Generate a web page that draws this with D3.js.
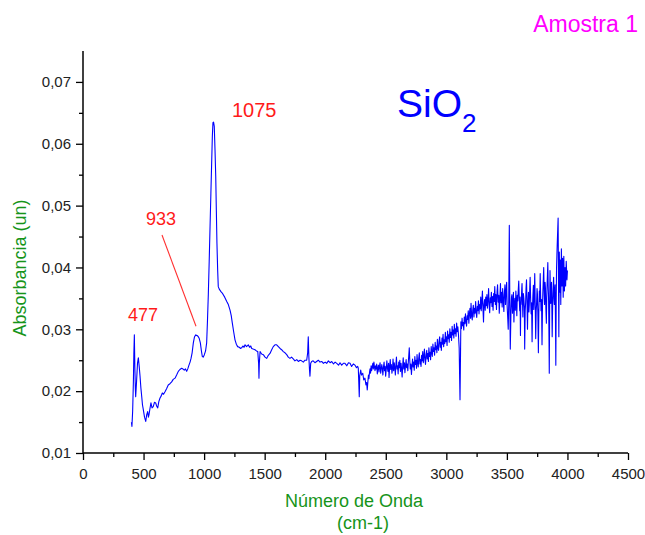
<!DOCTYPE html>
<html>
<head>
<meta charset="utf-8">
<script src="https://cdn.jsdelivr.net/npm/d3@7"></script>
<style>
  html, body { margin: 0; padding: 0; background: #fff; }
  svg { display: block; font-family: "Liberation Sans", Arial, sans-serif; }
</style>
</head>
<body>
<svg id="chart" width="645" height="535"></svg>
<script>
// ---- data ----
const xTicks = [0, 500, 1000, 1500, 2000, 2500, 3000, 3500, 4000, 4500];
const xMinorTicks = [250, 750, 1250, 1750, 2250, 2750, 3250, 3750, 4250];
const yTicks = [0.01, 0.02, 0.03, 0.04, 0.05, 0.06, 0.07];
const yMinorTicks = [0.015, 0.025, 0.035, 0.045, 0.055, 0.065];

// spectrum segments: [wavenumber (cm-1), absorbance]
const segLow = [[400,0.0150],[404,0.0143],[410,0.0168],[416,0.0215],[420,0.0262],[424,0.0291],[428,0.0240],[432,0.0205],[435,0.0191],[442,0.0215],[450,0.0245],[457,0.0254],[464,0.0240],[471,0.0224],[478,0.0205],[485,0.0191],[491,0.0178],[498,0.0170],[508,0.0158],[518,0.0151],[526,0.0162],[534,0.0167],[540,0.0158],[545,0.0162],[553,0.0172],[561,0.0181],[570,0.0173],[580,0.0175],[590,0.0182],[600,0.0181],[608,0.0176],[617,0.0173],[626,0.0183],[636,0.0189],[645,0.0192],[655,0.0197],[665,0.0195],[677,0.0199],[690,0.0204],[704,0.0210],[718,0.0212],[732,0.0215],[745,0.0219],[760,0.0221],[773,0.0226],[787,0.0232],[800,0.0235],[815,0.0237],[825,0.0236],[836,0.0234],[846,0.0236],[856,0.0232],[865,0.0236],[875,0.0242],[884,0.0247],[892,0.0253],[901,0.0262],[911,0.0278],[921,0.0288],[931,0.0291],[942,0.0290],[952,0.0288],[960,0.0285],[969,0.0278],[977,0.0266],[985,0.0256],[993,0.0255],[1002,0.0259],[1012,0.0265],[1021,0.0278]];
const segPeak = [[1028,0.0315],[1035,0.0358],[1042,0.0410],[1049,0.0466],[1056,0.0520],[1063,0.0574],[1068,0.0612],[1073,0.0634],[1078,0.0635],[1084,0.0628],[1090,0.0590],[1096,0.0547],[1101,0.0492],[1106,0.0439],[1112,0.0395],[1117,0.0369],[1125,0.0365],[1132,0.0363],[1139,0.0361],[1148,0.0359],[1158,0.0356],[1170,0.0352],[1187,0.0345],[1200,0.0340],[1214,0.0331],[1224,0.0322],[1233,0.0310],[1244,0.0296],[1255,0.0283],[1266,0.0276],[1277,0.0272]];
const segMid = [[1290,0.0271],[1300,0.0269],[1310,0.0270],[1320,0.0273],[1330,0.0271],[1338,0.0275],[1350,0.0272],[1365,0.0275],[1375,0.0271],[1385,0.0273],[1393,0.0269],[1405,0.0268],[1420,0.0267],[1432,0.0265],[1443,0.0264],[1450,0.0245],[1453,0.0221],[1456,0.0245],[1462,0.0264],[1475,0.0260],[1489,0.0259],[1503,0.0255],[1517,0.0253],[1530,0.0258],[1544,0.0261],[1558,0.0267],[1571,0.0272],[1585,0.0275],[1599,0.0275],[1613,0.0272],[1627,0.0269],[1640,0.0267],[1654,0.0264],[1668,0.0262],[1682,0.0259],[1695,0.0255],[1709,0.0253],[1722,0.0255],[1736,0.0252],[1750,0.0249],[1765,0.0251],[1778,0.0248],[1792,0.0250],[1805,0.0249],[1819,0.0247],[1833,0.0250],[1847,0.0250],[1855,0.0262],[1860,0.0288],[1865,0.0255],[1870,0.0235],[1874,0.0224],[1880,0.0245],[1888,0.0248],[1900,0.0249],[1915,0.0246],[1929,0.0248],[1943,0.0250],[1957,0.0247],[1971,0.0248],[1985,0.0245],[2000,0.0247],[2012,0.0245],[2026,0.0249],[2040,0.0246],[2054,0.0248],[2068,0.0244],[2082,0.0247],[2095,0.0245],[2110,0.0242],[2122,0.0246],[2136,0.0242],[2150,0.0245],[2163,0.0245],[2178,0.0241],[2192,0.0246],[2205,0.0245],[2218,0.0240],[2232,0.0244],[2246,0.0242],[2258,0.0238],[2268,0.0240],[2273,0.0237],[2277,0.0215],[2281,0.0191],[2285,0.0225],[2293,0.0234],[2300,0.0226],[2310,0.0229],[2318,0.0218],[2328,0.0221],[2336,0.0210],[2342,0.0214],[2347,0.0202]];
const segNoise1 = [[2352,0.0215],[2357,0.0226],[2361,0.0220],[2366,0.0231],[2370,0.0236],[2374,0.0229],[2379,0.0241],[2383,0.0233],[2388,0.0239],[2393,0.0245],[2397,0.0236],[2402,0.0247],[2406,0.0240],[2411,0.0233],[2416,0.0241],[2420,0.0236],[2425,0.0244],[2430,0.0228],[2434,0.0237],[2439,0.0242],[2444,0.0231],[2448,0.0240],[2453,0.0246],[2458,0.0229],[2462,0.0235],[2467,0.0243],[2471,0.0238],[2476,0.0226],[2481,0.0239],[2486,0.0247],[2490,0.0233],[2495,0.0240],[2499,0.0224],[2504,0.0236],[2509,0.0249],[2513,0.0238],[2518,0.0232],[2523,0.0245],[2527,0.0222],[2532,0.0240],[2537,0.0251],[2541,0.0235],[2546,0.0243],[2551,0.0229],[2556,0.0238],[2560,0.0252],[2565,0.0233],[2570,0.0246],[2574,0.0239],[2579,0.0226],[2584,0.0244],[2588,0.0255],[2593,0.0236],[2598,0.0241],[2602,0.0228],[2607,0.0247],[2612,0.0238],[2616,0.0250],[2621,0.0232],[2626,0.0245],[2630,0.0237],[2635,0.0223],[2640,0.0243],[2644,0.0254],[2649,0.0236],[2654,0.0246],[2658,0.0230],[2663,0.0241],[2668,0.0251],[2672,0.0238],[2677,0.0244],[2682,0.0233],[2686,0.0247],[2690,0.0258],[2694,0.0270],[2698,0.0250],[2702,0.0236],[2707,0.0244],[2712,0.0227],[2716,0.0240],[2721,0.0252],[2726,0.0239],[2730,0.0247],[2735,0.0234],[2740,0.0256],[2744,0.0243],[2749,0.0250],[2754,0.0237],[2758,0.0259],[2763,0.0246],[2768,0.0239],[2772,0.0253],[2777,0.0262],[2782,0.0244],[2786,0.0251],[2791,0.0240],[2796,0.0258],[2800,0.0249],[2805,0.0264],[2810,0.0246],[2814,0.0255],[2819,0.0268],[2824,0.0250],[2828,0.0243],[2833,0.0259],[2838,0.0266],[2842,0.0252],[2847,0.0261],[2852,0.0248],[2856,0.0270],[2861,0.0256],[2866,0.0263],[2870,0.0251],[2875,0.0272],[2880,0.0262],[2884,0.0256],[2889,0.0276],[2894,0.0264],[2898,0.0270],[2903,0.0258],[2908,0.0279],[2912,0.0267],[2917,0.0273],[2922,0.0262],[2926,0.0284],[2931,0.0270],[2936,0.0266],[2940,0.0281],[2945,0.0288],[2950,0.0271],[2954,0.0279],[2959,0.0266],[2964,0.0286],[2968,0.0276],[2973,0.0292],[2978,0.0272],[2982,0.0283],[2987,0.0277],[2992,0.0295],[2996,0.0280],[3001,0.0288],[3006,0.0274],[3010,0.0297],[3015,0.0285],[3020,0.0291],[3024,0.0279],[3029,0.0301],[3034,0.0287],[3038,0.0295],[3043,0.0282],[3048,0.0305],[3052,0.0291],[3057,0.0299],[3062,0.0286],[3066,0.0308],[3071,0.0293],[3076,0.0301],[3080,0.0289],[3085,0.0310],[3090,0.0296],[3095,0.0304],[3100,0.0292]];
const segNoise2 = [[3106,0.0270],[3110,0.0220],[3113,0.0186],[3116,0.0240],[3120,0.0312],[3125,0.0301],[3130,0.0318],[3134,0.0306],[3139,0.0311],[3144,0.0299],[3148,0.0320],[3153,0.0309],[3158,0.0325],[3162,0.0313],[3167,0.0305],[3172,0.0322],[3176,0.0316],[3181,0.0330],[3186,0.0310],[3190,0.0324],[3195,0.0334],[3200,0.0318],[3204,0.0342],[3209,0.0322],[3214,0.0315],[3218,0.0331],[3223,0.0339],[3228,0.0320],[3232,0.0334],[3237,0.0326],[3242,0.0345],[3246,0.0328],[3251,0.0319],[3256,0.0337],[3260,0.0330],[3265,0.0346],[3270,0.0325],[3274,0.0340],[3279,0.0333],[3284,0.0352],[3288,0.0330],[3293,0.0344],[3298,0.0362],[3302,0.0336],[3307,0.0312],[3311,0.0340],[3316,0.0348],[3321,0.0331],[3325,0.0352],[3330,0.0338],[3335,0.0356],[3339,0.0334],[3344,0.0347],[3349,0.0366],[3353,0.0340],[3358,0.0327],[3363,0.0351],[3367,0.0343],[3372,0.0360],[3377,0.0337],[3381,0.0353],[3386,0.0331],[3391,0.0358],[3395,0.0345],[3400,0.0369],[3405,0.0340],[3409,0.0356],[3414,0.0332],[3419,0.0361],[3423,0.0372],[3428,0.0344],[3433,0.0355],[3437,0.0326],[3442,0.0350],[3447,0.0374],[3451,0.0343],[3456,0.0360],[3461,0.0336],[3465,0.0366],[3470,0.0349],[3475,0.0329],[3479,0.0357],[3484,0.0372],[3489,0.0340],[3493,0.0362],[3498,0.0376],[3502,0.0338],[3507,0.0318],[3511,0.0300],[3515,0.0340]];
const segNoise3 = [[3520,0.0468],[3524,0.0350],[3528,0.0268],[3534,0.0330],[3538,0.0352],[3542,0.0356],[3546,0.0326],[3550,0.0338],[3554,0.0360],[3558,0.0312],[3562,0.0340],[3566,0.0350],[3570,0.0331],[3574,0.0362],[3578,0.0345],[3582,0.0322],[3586,0.0355],[3590,0.0346],[3594,0.0364],[3598,0.0378],[3602,0.0350],[3606,0.0330],[3609,0.0352],[3612,0.0290],[3615,0.0344],[3618,0.0340],[3622,0.0362],[3625,0.0374],[3629,0.0343],[3632,0.0320],[3636,0.0358],[3640,0.0350],[3644,0.0336],[3647,0.0268],[3651,0.0330],[3655,0.0344],[3658,0.0366],[3662,0.0380],[3666,0.0345],[3670,0.0300],[3674,0.0342],[3678,0.0360],[3682,0.0328],[3685,0.0340],[3689,0.0368],[3692,0.0384],[3696,0.0350],[3700,0.0325],[3704,0.0343],[3708,0.0280],[3712,0.0338],[3715,0.0355],[3719,0.0371],[3722,0.0332],[3726,0.0352],[3730,0.0390],[3734,0.0340],[3738,0.0285],[3742,0.0330],[3745,0.0340],[3749,0.0366],[3752,0.0358],[3756,0.0322],[3760,0.0262],[3764,0.0330],[3768,0.0362],[3771,0.0345],[3775,0.0390],[3779,0.0352],[3782,0.0330],[3786,0.0348],[3790,0.0275],[3794,0.0338],[3797,0.0360],[3801,0.0382],[3804,0.0400],[3808,0.0356],[3811,0.0340],[3815,0.0376],[3818,0.0368],[3822,0.0333],[3826,0.0310],[3829,0.0350],[3832,0.0372],[3835,0.0390],[3838,0.0408],[3841,0.0370],[3844,0.0352],[3847,0.0300],[3850,0.0229],[3853,0.0330],[3856,0.0395],[3859,0.0366],[3862,0.0342],[3865,0.0360],[3868,0.0376],[3871,0.0340],[3874,0.0288],[3877,0.0330],[3880,0.0358],[3883,0.0372],[3886,0.0384],[3889,0.0350],[3892,0.0340],[3895,0.0362],[3898,0.0372],[3901,0.0320],[3904,0.0242],[3907,0.0340],[3910,0.0398],[3913,0.0420],[3916,0.0440],[3920,0.0462],[3923,0.0480],[3926,0.0380],[3929,0.0288],[3933,0.0425],[3937,0.0360],[3941,0.0412],[3945,0.0340],[3950,0.0430],[3955,0.0370],[3960,0.0415],[3965,0.0352],[3970,0.0418],[3975,0.0362],[3980,0.0400],[3985,0.0370],[3990,0.0410],[3996,0.0380],[4000,0.0395]];

const annotations = [
  { text: "1075", wn: 1075 },
  { text: "933", wn: 933 },
  { text: "477", wn: 477 }
];

// ---- chart ----
const svg = d3.select("#chart");
const x = d3.scaleLinear().domain([0, 4500]).range([83, 628]);
const y = d3.scaleLinear().domain([0.01, 0.075]).range([453, 51]);

const fmtY = d => d.toFixed(2).replace(".", ",");

// minor ticks
svg.append("g").attr("transform", "translate(0,453)")
  .call(d3.axisBottom(x).tickValues(xMinorTicks).tickSize(4).tickFormat(""))
  .call(g => g.select(".domain").remove())
  .selectAll("line").attr("stroke", "#000").attr("stroke-width", 1.3);
svg.append("g").attr("transform", "translate(83,0)")
  .call(d3.axisLeft(y).tickValues(yMinorTicks).tickSize(4).tickFormat(""))
  .call(g => g.select(".domain").remove())
  .selectAll("line").attr("stroke", "#000").attr("stroke-width", 1.3);

// major axes
const gx = svg.append("g").attr("transform", "translate(0,453)")
  .call(d3.axisBottom(x).tickValues(xTicks).tickSize(7).tickSizeOuter(0).tickPadding(8).tickFormat(d3.format("d")));
const gy = svg.append("g").attr("transform", "translate(83,0)")
  .call(d3.axisLeft(y).tickValues(yTicks).tickSize(7).tickSizeOuter(0).tickPadding(5).tickFormat(fmtY));
[gx, gy].forEach(g => {
  g.select(".domain").attr("stroke", "#000").attr("stroke-width", 1.5);
  g.selectAll(".tick line").attr("stroke", "#000").attr("stroke-width", 1.3);
  g.selectAll(".tick text").attr("fill", "#222").style("font-size", "15px")
    .style("font-family", "'Liberation Sans', Arial, sans-serif");
});
gy.select(".domain").attr("d", `M0,${y(0.075)}V${y(0.01)}`);
gx.select(".domain").attr("d", `M${x(0)},0H${x(4500)}`);

// spectrum
const pts = [].concat(segLow, segPeak, segMid, segNoise1, segNoise2, segNoise3);
svg.append("path")
  .datum(pts)
  .attr("fill", "none")
  .attr("stroke", "#0000ff")
  .attr("stroke-width", 1.1)
  .attr("stroke-linejoin", "round")
  .attr("d", d3.line().x(d => x(d[0])).y(d => y(d[1])));

// axis titles
svg.append("text").attr("x", 354).attr("y", 507).attr("text-anchor", "middle")
  .attr("fill", "#16941a").style("font-size", "18px").text("Número de Onda");
svg.append("text").attr("x", 363).attr("y", 529).attr("text-anchor", "middle")
  .attr("fill", "#16941a").style("font-size", "18px").text("(cm-1)");
svg.append("text").attr("transform", "translate(26,268) rotate(-90)").attr("text-anchor", "middle")
  .attr("fill", "#16941a").style("font-size", "18px").text("Absorbancia (un)");

// titles
svg.append("text").attr("x", 638).attr("y", 32).attr("text-anchor", "end")
  .attr("fill", "#ff00ff").style("font-size", "23px").text("Amostra 1");
const sio = svg.append("text").attr("x", 397).attr("y", 117).attr("fill", "#0000ff").style("font-size", "39px");
sio.append("tspan").text("SiO");
sio.append("tspan").attr("dy", 15).style("font-size", "26px").text("2");

// peak annotations
svg.append("text").attr("x", 232).attr("y", 117).attr("fill", "#ff1a1a").style("font-size", "20px").text(annotations[0].text);
svg.append("text").attr("x", 146).attr("y", 225).attr("fill", "#ff1a1a").style("font-size", "18px").text(annotations[1].text);
svg.append("text").attr("x", 128).attr("y", 321).attr("fill", "#ff1a1a").style("font-size", "18px").text(annotations[2].text);
svg.append("line")
  .attr("x1", 162).attr("y1", 235)
  .attr("x2", x(annotations[1].wn)).attr("y2", y(0.0305))
  .attr("stroke", "#ff3030").attr("stroke-width", 1.1);
</script>
</body>
</html>
